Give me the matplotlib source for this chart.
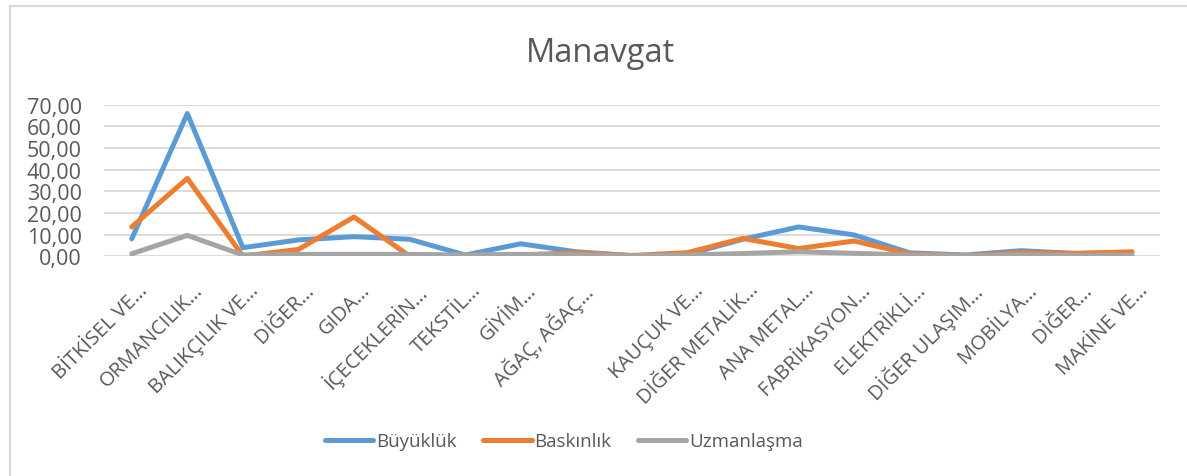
import matplotlib.pyplot as plt
import matplotlib.transforms as mtransforms
from matplotlib.ticker import FuncFormatter
from matplotlib.lines import Line2D

# Sektör etiketleri (Excel kısaltılmış hali)
kategoriler = ["BİTKİSEL VE…", "ORMANCILIK…", "BALIKÇILIK VE…", "DİĞER…", "GIDA…",
               "İÇECEKLERİN…", "TEKSTİL…", "GİYİM…", "AĞAÇ, AĞAÇ…", "",
               "KAUÇUK VE…", "DİĞER METALİK…", "ANA METAL…", "FABRİKASYON…",
               "ELEKTRİKLİ…", "DİĞER ULAŞIM…", "MOBİLYA…", "DİĞER…", "MAKİNE VE…"]

buyukluk = [8.0, 66.0, 3.9, 7.5, 9.0, 7.8, 0.5, 5.7, 2.0, 0.2,
            0.8, 7.8, 13.5, 9.8, 1.5, 0.5, 2.5, 1.2, 1.5]
baskinlik = [13.5, 36.0, 0.0, 3.1, 18.1, 0.0, 0.3, 0.6, 1.5, 0.3,
             1.6, 8.2, 3.5, 7.0, 1.0, 0.3, 1.5, 1.3, 2.0]
uzmanlasma = [1.1, 9.6, 0.5, 0.8, 0.8, 0.8, 0.5, 0.8, 0.6, 0.2,
              0.5, 1.2, 2.0, 1.3, 0.5, 0.2, 0.6, 0.4, 0.5]

plt.rcParams['font.family'] = ['Open Sans', 'DejaVu Sans']
yazi = "#595959"

fig = plt.figure(figsize=(11.87, 4.77), dpi=100)
ax = fig.add_axes([0.0876, 0.461, 0.8894, 0.317])

x = range(len(kategoriler))
ax.plot(x, buyukluk, color="#5B9BD5", lw=3.6, label="Büyüklük", solid_capstyle="round")
ax.plot(x, baskinlik, color="#ED7D31", lw=3.6, label="Baskınlık", solid_capstyle="round")
ax.plot(x, uzmanlasma, color="#A5A5A5", lw=3.6, label="Uzmanlaşma", solid_capstyle="round")

ax.set_xlim(-0.5, len(kategoriler) - 0.5)
ax.set_ylim(0, 70)
ax.set_yticks(range(0, 71, 10))
ax.yaxis.set_major_formatter(FuncFormatter(lambda v, p: f"{v:.2f}".replace(".", ",")))
ax.grid(axis="y", color="#D9D9D9", lw=1.3)
ax.set_axisbelow(True)
for s in ax.spines.values():
    s.set_visible(False)
ax.tick_params(axis="y", length=0, colors=yazi, labelsize=15.5, pad=16)
ax.tick_params(axis="x", length=0, colors=yazi, labelsize=14.5, pad=17)
ax.set_xticks(list(x))
ax.set_xticklabels(kategoriler, rotation=45, ha="right", rotation_mode="anchor")

# etiketleri biraz sağa kaydır
kaydir = mtransforms.ScaledTranslation(6 / 100, 0, fig.dpi_scale_trans)
for lab in ax.get_xticklabels():
    lab.set_transform(lab.get_transform() + kaydir)

fig.text(0.506, 0.887, "Manavgat", ha="center", va="center", fontsize=23.5, color=yazi)

leg = fig.legend(loc="center", bbox_to_anchor=(0.475, 0.073), ncol=3, frameon=False,
                 fontsize=13.5, handlelength=2.6, columnspacing=1.4, handletextpad=0.15)
for t in leg.get_texts():
    t.set_color(yazi)

# grafik çerçevesi (sol ve üst kenar görünüyor)
fig.add_artist(Line2D([10 / 1187, 10 / 1187], [0, 1 - 7 / 477], color="#D9D9D9", lw=1.5))
fig.add_artist(Line2D([10 / 1187, 1], [1 - 7 / 477, 1 - 7 / 477], color="#D9D9D9", lw=1.5))

fig.savefig("out.png", dpi=100)
